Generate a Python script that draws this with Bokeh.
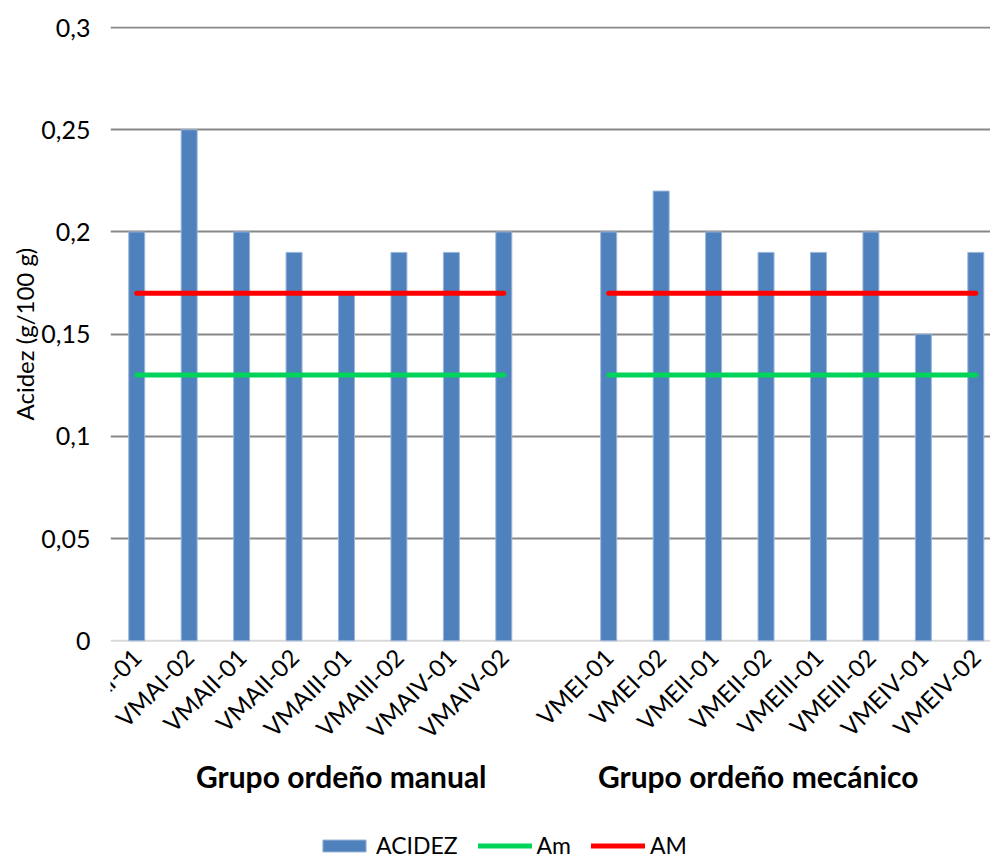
import math
from bokeh.plotting import figure
from bokeh.models import (FixedTicker, Legend, LegendItem, Range1d, Label, Span, Title)
from bokeh.embed import file_html
from bokeh.resources import INLINE

# ---- data ----
categories = ["VMAI-01", "VMAI-02", "VMAII-01", "VMAII-02", "VMAIII-01", "VMAIII-02", "VMAIV-01", "VMAIV-02",
              "",
              "VMEI-01", "VMEI-02", "VMEII-01", "VMEII-02", "VMEIII-01", "VMEIII-02", "VMEIV-01", "VMEIV-02"]
acidez = [0.20, 0.25, 0.20, 0.19, 0.17, 0.19, 0.19, 0.20,
          None,
          0.20, 0.22, 0.20, 0.19, 0.19, 0.20, 0.15, 0.19]
am_low = [0.13] * 8 + [None] + [0.13] * 8
am_high = [0.17] * 8 + [None] + [0.17] * 8
group_labels = ["Grupo ordeño manual", "Grupo ordeño mecánico"]
y_ticks = [0, 0.05, 0.1, 0.15, 0.2, 0.25, 0.3]
y_tick_labels = ["0", "0,05", "0,1", "0,15", "0,2", "0,25", "0,3"]

# layout constants (positions of the group titles along the category axis / below zero)
GROUP_LABEL_POS = [3.9, 11.85]
GROUP_LABEL_Y = -0.066

FONT = "Lato"
nan = float("nan")
xs = list(range(len(categories)))
bar_x = [x for x, v in zip(xs, acidez) if v is not None]
bar_top = [v for v in acidez if v is not None]

p = figure(width=990, height=860, output_backend="svg", toolbar_location=None,
           x_range=Range1d(-0.5, 16.28), y_range=Range1d(-0.1075, 0.3005),
           min_border_left=110, min_border_right=0, min_border_top=26, min_border_bottom=0)
p.outline_line_color = None
p.background_fill_color = "white"

zero = Span(location=0, dimension="width", line_color="#D9D9D9", line_width=2, level="underlay")
p.add_layout(zero)

bars = p.vbar(x=bar_x, top=bar_top, width=0.305, bottom=0,
              fill_color="#4F81BD", line_color="#9DB7DB", line_width=1)
l1 = p.line(xs, [nan if v is None else v for v in am_low], line_color="#00D35A", line_width=5, line_cap="round")
l2 = p.line(xs, [nan if v is None else v for v in am_high], line_color="#FF0000", line_width=5, line_cap="round")

# category axis, pinned at y = 0 inside the plot area
p.xaxis.fixed_location = 0
p.xaxis.ticker = FixedTicker(ticks=[i for i, c in enumerate(categories) if c])
p.xaxis.major_label_overrides = {i: c for i, c in enumerate(categories) if c}
p.xaxis.major_label_orientation = math.pi / 4
p.xaxis.major_label_text_font = FONT
p.xaxis.major_label_text_font_size = "24px"
p.xaxis.major_label_text_color = "#000000"
p.xaxis.major_tick_line_color = None
p.xaxis.major_tick_out = 0
p.xaxis.minor_tick_line_color = None
p.xaxis.minor_tick_out = 0
p.xaxis.axis_line_color = None
p.xaxis.major_label_standoff = 12

# group titles
for gx, gl in zip(GROUP_LABEL_POS, group_labels):
    p.add_layout(Label(x=gx, y=GROUP_LABEL_Y, text=gl, text_font=FONT, text_font_style="bold",
                       text_font_size="30px", text_align="center", text_baseline="middle",
                       text_color="#000000"))

# y axis
p.yaxis.ticker = FixedTicker(ticks=y_ticks)
p.yaxis.major_label_overrides = {t: l for t, l in zip(y_ticks, y_tick_labels)}
p.yaxis.major_label_text_font = FONT
p.yaxis.major_label_text_font_size = "25px"
p.yaxis.major_label_text_color = "#000000"
p.yaxis.axis_line_color = None
p.yaxis.major_tick_line_color = None
p.yaxis.major_tick_out = 0
p.yaxis.minor_tick_line_color = None
p.yaxis.minor_tick_out = 0
p.yaxis.major_label_standoff = 20

ytitle = Title(text="Acidez (g/100 g)", align="left", offset=440, standoff=0,
               text_font=FONT, text_font_size="24px", text_font_style="normal", text_color="#000000")
p.add_layout(ytitle, "left")

p.xgrid.grid_line_color = None
p.ygrid.ticker = FixedTicker(ticks=y_ticks[1:])
p.ygrid.grid_line_color = "#888888"
p.ygrid.grid_line_width = 2

legend = Legend(items=[LegendItem(label="ACIDEZ", renderers=[bars]),
                       LegendItem(label="Am", renderers=[l1]),
                       LegendItem(label="AM", renderers=[l2])],
                orientation="horizontal", location=(207, 1),
                glyph_width=54, glyph_height=15, label_standoff=5, spacing=20,
                padding=0, margin=0, border_line_color=None, background_fill_alpha=0,
                label_text_font=FONT, label_text_font_size="23px", label_text_color="#000000")
p.add_layout(legend)

open("out.html", "w").write(file_html(p, INLINE))
